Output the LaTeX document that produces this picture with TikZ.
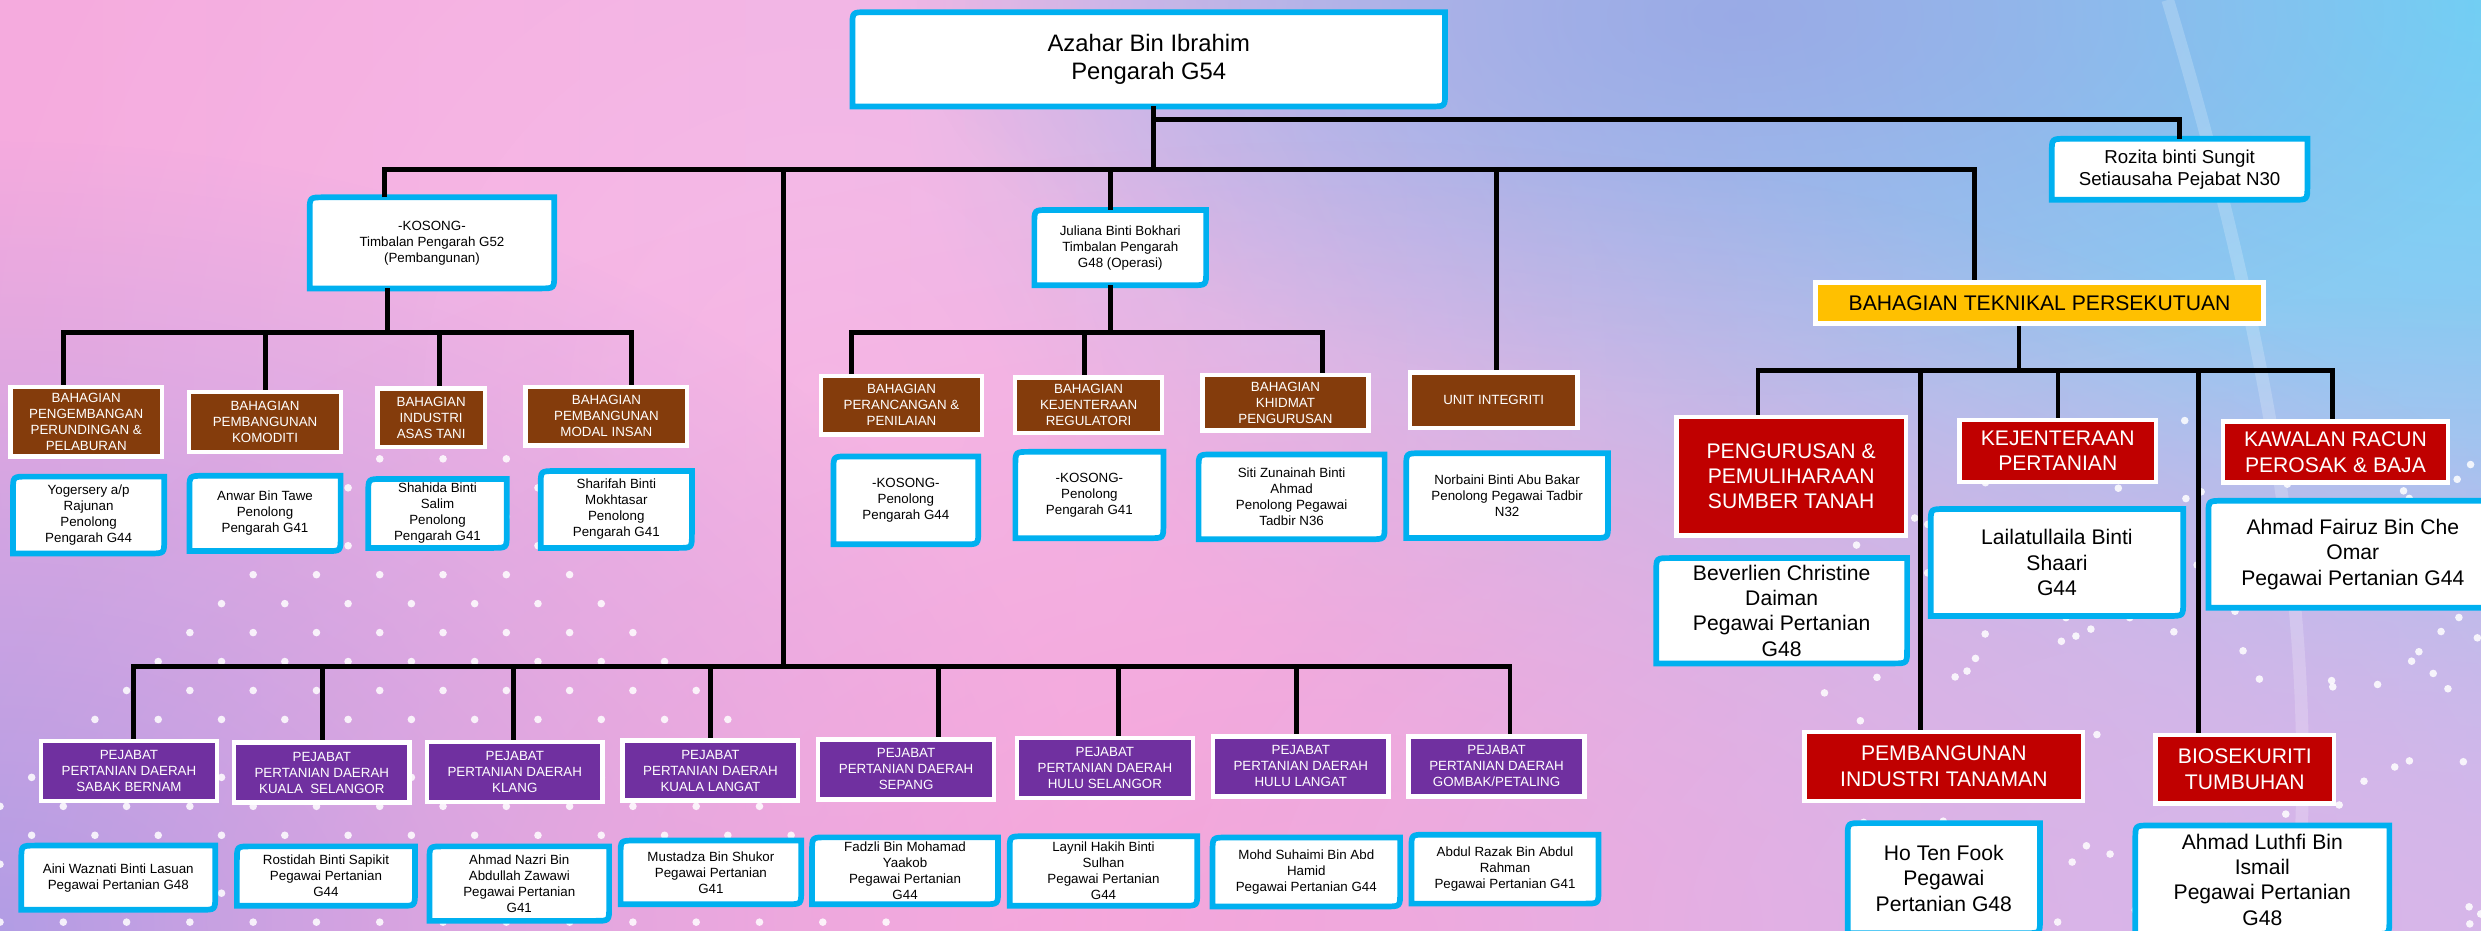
\documentclass[tikz,border=0pt]{standalone}
\usepackage{fontspec}
\setmainfont{Liberation Sans}
\usetikzlibrary{fadings}

\definecolor{boxcyan}{HTML}{00B0F0}
\definecolor{hbrown}{HTML}{843C0C}
\definecolor{hpurple}{HTML}{7030A0}
\definecolor{hred}{HTML}{C00000}
\definecolor{hyellow}{HTML}{FFC000}
\definecolor{bgpink}{HTML}{F7A3D9}
\definecolor{bgpinklight}{HTML}{F4AEE0}
\definecolor{bgmauve}{HTML}{E2B4E6}
\definecolor{bglav}{HTML}{C3BAEC}
\definecolor{bgblue}{HTML}{9CCFF2}
\definecolor{glowblue}{HTML}{6FD3F6}
\definecolor{glowviolet}{HTML}{98A4E4}
\definecolor{glowlav}{HTML}{AE9DE6}
\definecolor{glowpink}{HTML}{F7A5DA}
\definecolor{glowmauve}{HTML}{D8B6EA}
\definecolor{glowlight}{HTML}{FAC3EC}

\pgfdeclarehorizontalshading{bgshade}{100bp}{color(0bp)=(bgpink); color(35bp)=(bgpinklight); color(55bp)=(bgmauve); color(75bp)=(bglav); color(100bp)=(bgblue)}
\tikzfading[name=softglow, inner color=transparent!0, outer color=transparent!100]

\newcommand\txsmall{\fontsize{6}{7.2}\selectfont}
\newcommand\txmid{\fontsize{8.4}{10}\selectfont}
\newcommand\txlarge{\fontsize{9.5}{11.4}\selectfont}
\newcommand\txtitle{\fontsize{10.7}{12.4}\selectfont}

% cyan frame: round corners top left and bottom right
\newcommand\blueframe[1]{%
  \draw[boxcyan, line width=0.9mm] (#1.north) -- (#1.north east) -- ([yshift=2.2mm]#1.south east)
    .. controls (#1.south east) .. ([xshift=-2.2mm]#1.south east) -- (#1.south west)
    -- ([yshift=-2.2mm]#1.north west) .. controls (#1.north west) .. ([xshift=2.2mm]#1.north west) -- (#1.north);}

\tikzset{
  conn/.style={draw=black, line width=0.75mm},
  dot/.style={fill=white, opacity=0.85},
  boxsize/.style 2 args={minimum width=#1*0.25mm, minimum height=#2*0.25mm},
  bluebox/.style={fill=white, rounded corners=0.8mm, align=center, inner sep=0pt, text=black, font=\txsmall},
  unitbox/.style={draw=white, line width=0.7mm, align=center, inner sep=0pt, text=white},
  brownbox/.style={unitbox, fill=hbrown, font=\txsmall},
  purplebox/.style={unitbox, fill=hpurple, font=\txsmall},
  redbox/.style={unitbox, fill=hred, font=\txlarge},
  yellowbox/.style={unitbox, fill=hyellow, text=black, font=\txlarge},
}

\begin{document}
\begin{tikzpicture}[x=0.25mm, y=-0.25mm]
\useasboundingbox (0,0) rectangle (1568,588);

% background
\shade[shading=bgshade] (0,0) rectangle (1568,588);
\fill[glowlight, opacity=0.6, path fading=softglow] (520,250) ellipse [x radius=560, y radius=560];
\fill[glowblue, path fading=softglow] (1568,0) ellipse [x radius=1000, y radius=640];
\fill[glowviolet, opacity=0.8, path fading=softglow] (1100,10) ellipse [x radius=520, y radius=240];
\fill[glowlav, path fading=softglow] (0,588) ellipse [x radius=700, y radius=500];
\fill[glowpink, path fading=softglow] (850,588) ellipse [x radius=900, y radius=500];
\fill[glowmauve, path fading=softglow] (1500,588) ellipse [x radius=800, y radius=400];
\draw[white, opacity=0.2, line width=2mm] (1370,0) .. controls (1430,200) and (1470,400) .. (1450,588);

% dots
\foreach \r in {0,...,16} \foreach \c in {0,...,14} {
  \pgfmathsetmacro\dx{\c*40+mod(\r,2)*20}
  \pgfmathsetmacro\dy{290+\r*18.3}
  \pgfmathtruncatemacro\keep{(\dx>=220-(\dy-290)*1.1) && (\dx<=330+(\dy-290)*0.8)}
  \ifnum\keep=1 \fill[dot] (\dx,\dy) circle[radius=2.4]; \fi
}
\pgfmathsetseed{42}
\foreach \i in {1,...,110} {
  \pgfmathsetmacro\dx{1150+rnd*418}
  \pgfmathsetmacro\dy{260+rnd*328}
  \fill[dot] (\dx,\dy) circle[radius=2.4];
}

% top
\node[bluebox, boxsize={374}{59}, font=\txtitle] (dir) at (726,37.5) {Azahar Bin Ibrahim\\Pengarah G54};
\node[bluebox, boxsize={161}{38}, font=\txmid] (rozita) at (1377.5,107) {Rozita binti Sungit\\Setiausaha Pejabat N30};
\node[bluebox, boxsize={154}{57}] (tp1) at (273,153.5) {-KOSONG-\\Timbalan Pengarah G52\\(Pembangunan)};
\node[bluebox, boxsize={108}{47}] (tp2) at (708,156.5) {Juliana Binti Bokhari\\Timbalan Pengarah\\G48 (Operasi)};

% bahagian
\node[brownbox, boxsize={96}{44}] (bpp) at (54.5,266.5) {BAHAGIAN\\PENGEMBANGAN\\PERUNDINGAN \&\\PELABURAN};
\node[brownbox, boxsize={96}{38}] (bpk) at (167.5,266.75) {BAHAGIAN\\PEMBANGUNAN\\KOMODITI};
\node[brownbox, boxsize={68}{37}] (bia) at (272.5,264) {BAHAGIAN\\INDUSTRI\\ASAS TANI};
\node[brownbox, boxsize={102}{37}] (bmi) at (383.25,263) {BAHAGIAN\\PEMBANGUNAN\\MODAL INSAN};
\node[brownbox, boxsize={102}{37}] (bpn) at (569.75,256) {BAHAGIAN\\PERANCANGAN \&\\PENILAIAN};
\node[brownbox, boxsize={93}{35}] (bkr) at (688,256) {BAHAGIAN\\KEJENTERAAN\\REGULATORI};
\node[brownbox, boxsize={105}{35}] (bkp) at (812.4,254.5) {BAHAGIAN\\KHIDMAT\\PENGURUSAN};
\node[brownbox, boxsize={106}{35}] (uig) at (944,253) {UNIT INTEGRITI};

\node[bluebox, boxsize={95}{48}] (pyog) at (56,325.5) {Yogersery a/p\\Rajunan\\Penolong\\Pengarah G44};
\node[bluebox, boxsize={95}{47}] (panw) at (167.5,324.5) {Anwar Bin Tawe\\Penolong\\Pengarah G41};
\node[bluebox, boxsize={87}{43}] (psha) at (276.5,324.5) {Shahida Binti\\Salim\\Penolong\\Pengarah G41};
\node[bluebox, boxsize={95}{48}] (pshr) at (389.5,322) {Sharifah Binti\\Mokhtasar\\Penolong\\Pengarah G41};
\node[bluebox, boxsize={91}{55}] (pk44) at (572.5,316.25) {-KOSONG-\\Penolong\\Pengarah G44};
\node[bluebox, boxsize={93}{54}] (pk41) at (688.5,312.85) {-KOSONG-\\Penolong\\Pengarah G41};
\node[bluebox, boxsize={117}{53}] (psit) at (816.3,314) {Siti Zunainah Binti\\Ahmad\\Penolong Pegawai\\Tadbir N36};
\node[bluebox, boxsize={127}{53}] (pnor) at (952.5,313.25) {Norbaini Binti Abu Bakar\\Penolong Pegawai Tadbir\\N32};

% teknikal persekutuan
\node[yellowbox, boxsize={283}{26}] (btp) at (1289,191.5) {BAHAGIAN TEKNIKAL PERSEKUTUAN};
\node[redbox, boxsize={145}{75}] (rpp) at (1132,301) {PENGURUSAN \&\\PEMULIHARAAN\\SUMBER TANAH};
\node[redbox, boxsize={124}{39}] (rkp) at (1300.5,285) {KEJENTERAAN\\PERTANIAN};
\node[redbox, boxsize={142}{38.5}] (rkr) at (1476,285.75) {KAWALAN RACUN\\PEROSAK \& BAJA};
\node[redbox, boxsize={176}{43.6}] (rpi) at (1228.5,484.3) {PEMBANGUNAN\\INDUSTRI TANAMAN};
\node[redbox, boxsize={113}{43}] (rbt) at (1418.75,486.2) {BIOSEKURITI\\TUMBUHAN};

\node[bluebox, boxsize={158}{66}, font=\txlarge] (sbev) at (1126,386) {Beverlien Christine\\Daiman\\Pegawai Pertanian\\G48};
\node[bluebox, boxsize={159}{67}, font=\txlarge] (slai) at (1300,355.5) {Lailatullaila Binti\\Shaari\\G44};
\node[bluebox, boxsize={182}{67}, font=\txlarge] (sfai) at (1487,350.3) {Ahmad Fairuz Bin Che\\Omar\\Pegawai Pertanian G44};
\node[bluebox, boxsize={121}{69}, font=\txlarge] (shtf) at (1228.5,555) {Ho Ten Fook\\Pegawai\\Pertanian G48};
\node[bluebox, boxsize={160}{68}, font=\txlarge] (sluf) at (1429.8,556) {Ahmad Luthfi Bin\\Ismail\\Pegawai Pertanian\\G48};

% pejabat daerah
\node[purplebox, boxsize={111}{38}] (dsb) at (81.5,487.35) {PEJABAT\\PERTANIAN DAERAH\\SABAK BERNAM};
\node[purplebox, boxsize={111}{38}] (dks) at (203.4,488.3) {PEJABAT\\PERTANIAN DAERAH\\KUALA\ \ SELANGOR};
\node[purplebox, boxsize={111}{38}] (dkl) at (325.35,487.85) {PEJABAT\\PERTANIAN DAERAH\\KLANG};
\node[purplebox, boxsize={111}{38}] (dkg) at (449,487) {PEJABAT\\PERTANIAN DAERAH\\KUALA LANGAT};
\node[purplebox, boxsize={111}{38}] (dsp) at (572.65,486.3) {PEJABAT\\PERTANIAN DAERAH\\SEPANG};
\node[purplebox, boxsize={111}{38}] (dhs) at (698.3,485.5) {PEJABAT\\PERTANIAN DAERAH\\HULU SELANGOR};
\node[purplebox, boxsize={111}{38}] (dhl) at (822.1,484.4) {PEJABAT\\PERTANIAN DAERAH\\HULU LANGAT};
\node[purplebox, boxsize={111}{38}] (dgp) at (945.8,484.4) {PEJABAT\\PERTANIAN DAERAH\\GOMBAK/PETALING};

\node[bluebox, boxsize={122}{40}] (eain) at (74.75,554.7) {Aini Waznati Binti Lasuan\\Pegawai Pertanian G48};
\node[bluebox, boxsize={112}{37}] (eros) at (206,553.7) {Rostidah Binti Sapikit\\Pegawai Pertanian\\G44};
\node[bluebox, boxsize={113}{46.5}] (enaz) at (328.2,558.45) {Ahmad Nazri Bin\\Abdullah Zawawi\\Pegawai Pertanian\\G41};
\node[bluebox, boxsize={113.6}{39.7}] (emus) at (449.3,551.35) {Mustadza Bin Shukor\\Pegawai Pertanian\\G41};
\node[bluebox, boxsize={117}{41.7}] (efad) at (572,550.35) {Fadzli Bin Mohamad\\Yaakob\\Pegawai Pertanian\\G44};
\node[bluebox, boxsize={118}{43.4}] (elay) at (697.4,550.5) {Laynil Hakih Binti\\Sulhan\\Pegawai Pertanian\\G44};
\node[bluebox, boxsize={118}{43}] (emoh) at (825.6,551.1) {Mohd Suhaimi Bin Abd\\Hamid\\Pegawai Pertanian G44};
\node[bluebox, boxsize={117.7}{43}] (eabd) at (951.15,549.3) {Abdul Razak Bin Abdul\\Rahman\\Pegawai Pertanian G41};

\foreach \n in {dir,rozita,tp1,tp2,pyog,panw,psha,pshr,pk44,pk41,psit,pnor,
  sbev,slai,sfai,shtf,sluf,eain,eros,enaz,emus,efad,elay,emoh,eabd} {\blueframe{\n}}

% connectors
\coordinate (jtop) at (729,107);
\coordinate (jsec) at (729,75.6);
\coordinate (jtp1) at (243,107);
\coordinate (jdist) at (495,107);
\coordinate (jtp2) at (702,107);
\coordinate (juig) at (945.6,107);
\coordinate (jbtp) at (1248,107);
\draw[conn] (dir.south -| jtop) -- (jtop);
\draw[conn] (jsec) -| (rozita.north);
\draw[conn] (jtp1 |- tp1.north) -- (jtp1) -- (jbtp) -- (jbtp |- btp.north);
\draw[conn] (jtp2) -- (jtp2 |- tp2.north);
\draw[conn] (juig) -- (juig |- uig.north);

\coordinate (jl) at (245,210);
\foreach \n/\x in {bpp/40.1, bpk/167.9, bia/277.7, bmi/399.1} \coordinate (j\n) at (\x,210);
\draw[conn] (tp1.south -| jl) -- (jl);
\draw[conn] (jbpp |- bpp.north) -- (jbpp) -- (jbmi) -- (jbmi |- bmi.north);
\foreach \n in {bpk,bia} \draw[conn] (j\n) -- (j\n |- \n.north);

\coordinate (jm) at (702,210);
\foreach \n/\x in {bpn/538, bkr/685.4, bkp/836} \coordinate (j\n) at (\x,210);
\draw[conn] (tp2.south -| jm) -- (jm);
\draw[conn] (jbpn |- bpn.north) -- (jbpn) -- (jbkp) -- (jbkp |- bkp.north);
\draw[conn] (jbkr) -- (jbkr |- bkr.north);

\coordinate (jr) at (1276,234);
\foreach \n/\x in {rpp/1111, rpi/1213.6, rkp/1300.7, rbt/1389.4, rkr/1474} \coordinate (j\n) at (\x,234);
\draw[conn] (btp.south -| jr) -- (jr);
\draw[conn] (jrpp |- rpp.north) -- (jrpp) -- (jrkr) -- (jrkr |- rkr.north);
\foreach \n in {rpi,rkp,rbt} \draw[conn] (j\n) -- (j\n |- \n.north);

\foreach \n/\x in {dsb/84.3, dks/204, dkl/324.5, dkg/449, dsp/593, dhs/707, dhl/819.4, dgp/954.3} \coordinate (j\n) at (\x,421);
\draw[conn] (jdist) -- (jdist |- jdsb);
\draw[conn] (jdsb |- dsb.north) -- (jdsb) -- (jdgp) -- (jdgp |- dgp.north);
\foreach \n in {dks,dkl,dkg,dsp,dhs,dhl} \draw[conn] (j\n) -- (j\n |- \n.north);

\end{tikzpicture}
\end{document}
